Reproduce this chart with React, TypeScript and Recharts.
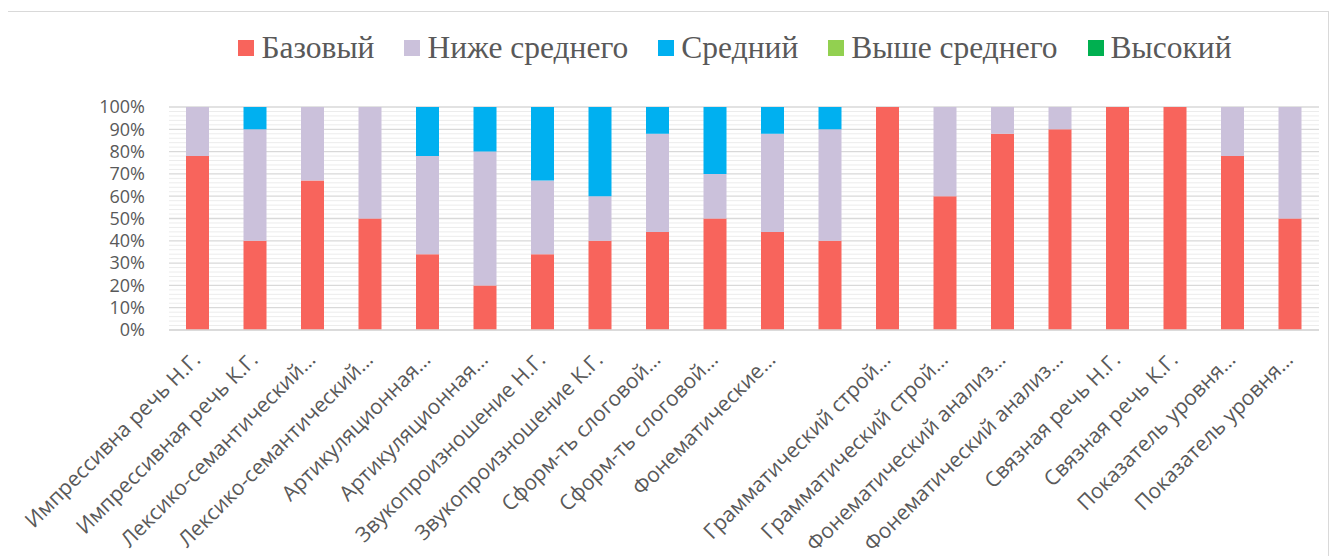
import { BarChart, Bar, XAxis, YAxis, CartesianGrid, Legend } from 'recharts';

const categories = [
  'Импрессивна речь Н.Г.',
  'Импрессивная речь К.Г.',
  'Лексико-семантический…',
  'Лексико-семантический…',
  'Артикуляционная…',
  'Артикуляционная…',
  'Звукопроизношение Н.Г.',
  'Звукопроизношение К.Г.',
  'Сформ-ть слоговой…',
  'Сформ-ть слоговой…',
  'Фонематические…',
  '',
  'Грамматический строй…',
  'Грамматический строй…',
  'Фонематический анализ…',
  'Фонематический анализ…',
  'Связная речь Н.Г.',
  'Связная речь К.Г.',
  'Показатель уровня…',
  'Показатель уровня…',
];

const seriesNames = ['Базовый', 'Ниже среднего', 'Средний', 'Выше среднего', 'Высокий'];

const basic = [78, 40, 67, 50, 34, 20, 34, 40, 44, 50, 44, 40, 100, 60, 88, 90, 100, 100, 78, 50];
const belowAvg = [22, 50, 33, 50, 44, 60, 33, 20, 44, 20, 44, 50, 0, 40, 12, 10, 0, 0, 22, 50];
const average = [0, 10, 0, 0, 22, 20, 33, 40, 12, 30, 12, 10, 0, 0, 0, 0, 0, 0, 0, 0];
const aboveAvg = [0, 0, 0, 0, 0, 0, 0, 0, 0, 0, 0, 0, 0, 0, 0, 0, 0, 0, 0, 0];
const high = [0, 0, 0, 0, 0, 0, 0, 0, 0, 0, 0, 0, 0, 0, 0, 0, 0, 0, 0, 0];

// every 2% gets a light grid line, every 10% a label and a darker line
const yTicks = [
  0, 2, 4, 6, 8, 10, 12, 14, 16, 18, 20, 22, 24, 26, 28, 30, 32, 34, 36, 38, 40, 42, 44, 46, 48, 50,
  52, 54, 56, 58, 60, 62, 64, 66, 68, 70, 72, 74, 76, 78, 80, 82, 84, 86, 88, 90, 92, 94, 96, 98, 100,
];

const data = categories.map((name, i) => ({
  name,
  basic: basic[i],
  belowAvg: belowAvg[i],
  average: average[i],
  aboveAvg: aboveAvg[i],
  high: high[i],
}));

const textColor = '#595959';
const axisFont = "'Open Sans', sans-serif";

// rotated category labels, Excel style
const AngledTick = (props: any) => {
  const { x, y, payload } = props;
  return (
    <g transform={`translate(${x + 4},${y + 23})`}>
      <text
        x={0}
        y={0}
        textAnchor="end"
        transform="rotate(-45)"
        fill={textColor}
        fontSize={21}
        fontFamily={axisFont}
      >
        {payload.value}
      </text>
    </g>
  );
};

const PercentTick = (props: any) => {
  const { x, y, payload } = props;
  if (payload.value % 10 !== 0) return <g />;
  return (
    <text x={x} y={y} dy="0.35em" textAnchor="end" fill={textColor} fontSize={18} fontFamily={axisFont}>
      {`${payload.value}%`}
    </text>
  );
};

const GridLine = (props: any) => {
  const { x1, x2, y1, y2, index } = props;
  const major = index % 5 === 0;
  return (
    <line
      x1={x1}
      x2={x2}
      y1={y1}
      y2={y2}
      stroke={major ? '#d9d9d9' : '#ececec'}
      strokeWidth={major ? 1.3 : 1}
    />
  );
};

const LegendRow = (props: any) => {
  const items = [...(props.payload || [])].sort(
    (a: any, b: any) => seriesNames.indexOf(a.value) - seriesNames.indexOf(b.value)
  );
  return (
    <div
      style={{
        display: 'flex',
        justifyContent: 'center',
        alignItems: 'center',
        gap: 30,
        fontFamily: "'Liberation Serif', 'Times New Roman', serif",
        fontSize: 31.5,
        lineHeight: '34px',
        color: textColor,
      }}
    >
      {items.map((p: any) => (
        <div key={p.value} style={{ display: 'flex', alignItems: 'center' }}>
          <span
            style={{ width: 16, height: 16, background: p.color, marginRight: 7, display: 'inline-block' }}
          />
          <span>{p.value}</span>
        </div>
      ))}
    </div>
  );
};

export default function App() {
  return (
    <div
      style={{
        position: 'relative',
        top: 3,
        left: -1,
        width: 1322,
        height: 548,
        border: '1px solid #d9d9d9',
        boxSizing: 'border-box',
        background: '#fff',
      }}
    >
      <BarChart
        width={1320}
        height={545}
        data={data}
        margin={{ top: 95, right: 9, left: 101, bottom: 0 }}
        barSize={23}
      >
        <CartesianGrid vertical={false} horizontal={(p: any) => <GridLine {...p} />} />
        <XAxis
          dataKey="name"
          interval={0}
          height={227}
          tickLine={false}
          axisLine={{ stroke: '#d9d9d9', strokeWidth: 1.5 }}
          tick={<AngledTick />}
        />
        <YAxis
          domain={[0, 100]}
          ticks={yTicks}
          interval={0}
          width={60}
          tickLine={false}
          axisLine={false}
          tickMargin={18}
          tick={<PercentTick />}
        />
        <Legend
          verticalAlign="middle"
          align="center"
          layout="horizontal"
          width={1150}
          wrapperStyle={{ top: 19, left: 152 }}
          content={<LegendRow />}
        />
        <Bar dataKey="basic" name={seriesNames[0]} stackId="a" fill="#f8645c" isAnimationActive={false} />
        <Bar dataKey="belowAvg" name={seriesNames[1]} stackId="a" fill="#cbc1db" isAnimationActive={false} />
        <Bar dataKey="average" name={seriesNames[2]} stackId="a" fill="#00b0f0" isAnimationActive={false} />
        <Bar dataKey="aboveAvg" name={seriesNames[3]} stackId="a" fill="#92d050" isAnimationActive={false} />
        <Bar dataKey="high" name={seriesNames[4]} stackId="a" fill="#00b050" isAnimationActive={false} />
      </BarChart>
    </div>
  );
}
